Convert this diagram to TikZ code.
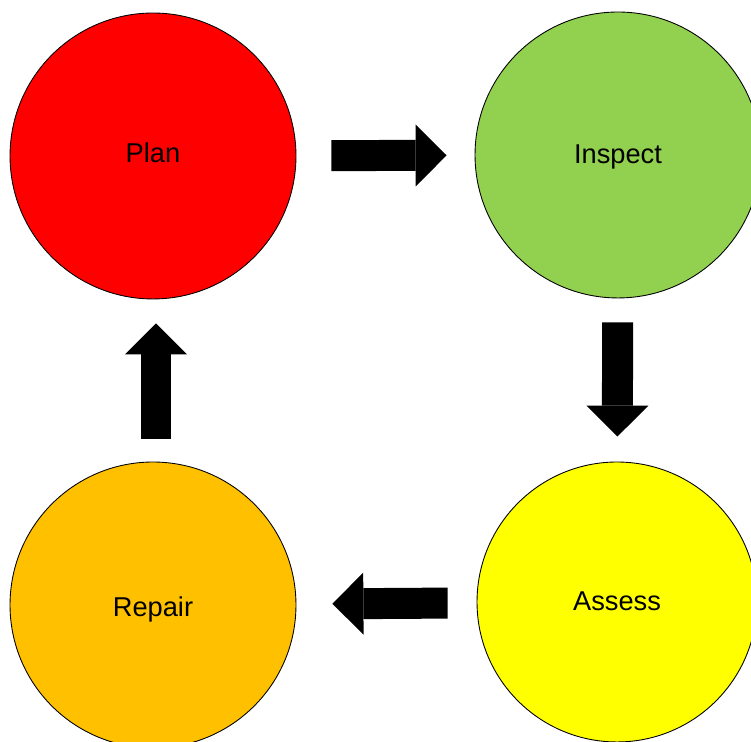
\documentclass[tikz,border=0pt]{standalone}
\usepackage{fontspec}
\setmainfont{Liberation Sans}
\usepackage{tikz}
\usetikzlibrary{arrows.meta}

\definecolor{planred}{HTML}{FF0000}
\definecolor{inspectgreen}{HTML}{92D050}
\definecolor{assessyellow}{HTML}{FFFF00}
\definecolor{repairorange}{HTML}{FFC000}

\begin{document}
\begin{tikzpicture}[x=0.02cm,y=0.02cm,
    stage/.style={circle,draw=black,line width=0.5pt,inner sep=0pt,minimum size=5.72cm,
      text height=11.1pt,text depth=0pt,font=\fontsize{15.5}{18}\selectfont},
    flow/.style={line width=0.62cm,
      -{Triangle[length=0.62cm,width=1.24cm,line width=0pt]}}]
    \clip (0,0) rectangle (751,742);

    % Kreise
    \node[stage,fill=planred,text depth=3.4pt] (plan) at (153,586) {Plan};
    \node[stage,fill=inspectgreen,text depth=1.1pt] (inspect) at (618,587) {Inspect};
    \node[stage,fill=assessyellow,minimum size=5.6cm,text depth=1.1pt] (assess) at (617,140) {Assess};
    \node[stage,fill=repairorange,text height=13.4pt] (repair) at (153,137) {Repair};

    % Pfeile
    \draw[flow,shorten <=0.7cm,shorten >=0.56cm] (plan) -- (inspect);
    \draw[flow,shorten <=0.48cm,shorten >=0.5cm] (inspect) -- (assess);
    \draw[flow,shorten <=0.58cm,shorten >=0.72cm] (assess) -- (repair);
    \draw[flow,shorten <=0.46cm,shorten >=0.48cm,transform canvas={xshift=0.06cm}] (repair) -- (plan);
  \end{tikzpicture}
\end{document}
